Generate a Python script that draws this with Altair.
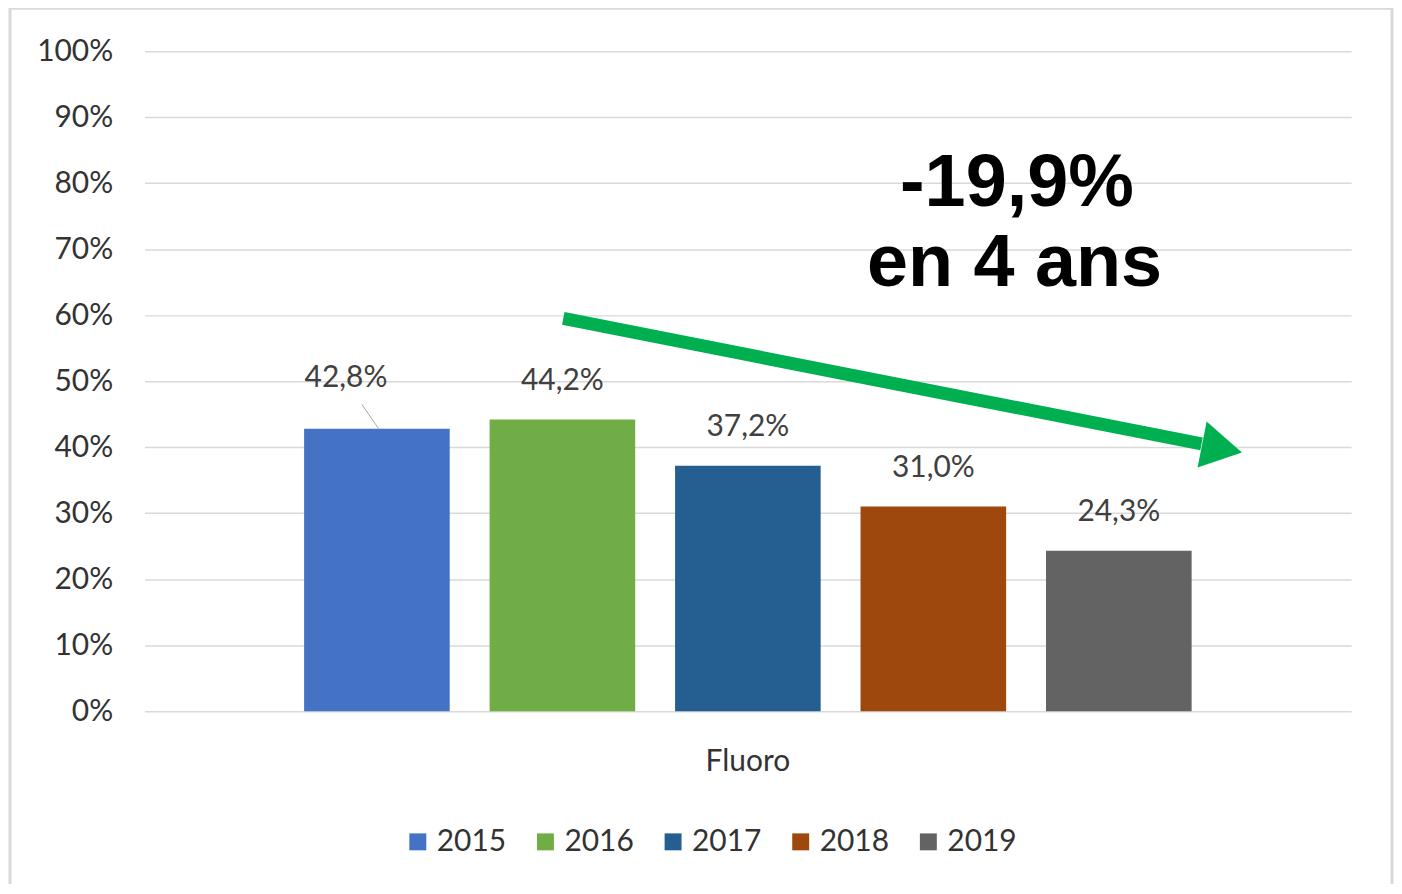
import altair as alt
import pandas as pd

# ---- data ----
categories = ["Fluoro", "Fluoro", "Fluoro", "Fluoro", "Fluoro"]
years = ["2015", "2016", "2017", "2018", "2019"]
values = [42.8, 44.2, 37.2, 31.0, 24.3]
colors = ["#4472C4", "#70AD47", "#255E91", "#9E480E", "#636363"]
y_ticks = [0, 10, 20, 30, 40, 50, 60, 70, 80, 90, 100]
headline = ["-19,9%", "en 4 ans"]

labels = [f"{v:.1f}".replace(".", ",") + "%" for v in values]
df = pd.DataFrame({"cat": categories, "year": years, "value": values, "label": labels})

# annotation positions (fraction of plot width, % on y axis)
head_df = pd.DataFrame({"text": headline, "fx": [0.723, 0.721], "fy": [76.6, 64.4]})
arrow_df = pd.DataFrame({"fx": [0.347], "fy": [59.5], "fx2": [0.876], "fy2": [40.5]})
arrowhead_df = pd.DataFrame({"fx": [0.893], "fy": [39.8]})
leader_df = pd.DataFrame({"fx": [0.180], "fy": [46.5], "fx2": [0.194], "fy2": [42.8]})

W, H = 1210, 662
FONT = "Lato"
TXT = "#333333"

x_scale = alt.Scale(paddingInner=0, paddingOuter=0)
x_enc = alt.X(
    "cat:N", scale=x_scale,
    axis=alt.Axis(title=None, domain=False, ticks=False, labelAngle=0,
                  labelFontSize=30, labelFont=FONT, labelColor=TXT, labelPadding=35),
)
x_enc_noaxis = alt.X("cat:N", scale=x_scale, axis=None)
xoff_enc = alt.XOffset("year:N", scale=alt.Scale(paddingInner=0.215, paddingOuter=0.86))
y_scale = alt.Scale(domain=[0, 100], nice=False)
y_enc = alt.Y(
    "value:Q", scale=y_scale,
    axis=alt.Axis(values=y_ticks, labelExpr="datum.value + '%'", title=None, domain=False,
                  ticks=False, grid=True, gridColor="#d9d9d9", gridWidth=1.5,
                  labelPadding=32, labelFontSize=30, labelFont=FONT, labelColor=TXT),
)
y_enc_noaxis = alt.Y("value:Q", scale=y_scale, axis=None)

base = alt.Chart(df)

bars = base.mark_bar().encode(
    x=x_enc, xOffset=xoff_enc, y=y_enc,
    color=alt.Color("year:N", scale=alt.Scale(domain=years, range=colors),
                    legend=alt.Legend(title=None, orient="none", direction="horizontal",
                                      legendX=259, legendY=778, symbolType="square",
                                      symbolSize=289, symbolStrokeWidth=0,
                                      labelFontSize=30, labelFont=FONT, labelColor=TXT,
                                      labelOffset=4, columnPadding=24)),
)

text_other = base.transform_filter("datum.year != '2015'").mark_text(
    dy=-39, baseline="middle", fontSize=30, font=FONT, color="#404040"
).encode(x=x_enc_noaxis, xOffset=xoff_enc, y=y_enc_noaxis, text="label:N")

text_first = base.transform_filter("datum.year == '2015'").mark_text(
    dy=-51, dx=-31, baseline="middle", fontSize=30, font=FONT, color="#404040"
).encode(x=x_enc_noaxis, xOffset=xoff_enc, y=y_enc_noaxis, text="label:N")

fx_scale = alt.Scale(domain=[0, 1], nice=False, zero=False)
fy_scale = alt.Scale(domain=[0, 100], nice=False)

border = alt.Chart(arrowhead_df).mark_rect(fillOpacity=0, stroke="#d9d9d9", strokeWidth=3).encode(
    x=alt.value(-135), x2=alt.value(1251), y=alt.value(-43), y2=alt.value(860)
)

leader = alt.Chart(leader_df).mark_rule(color="#a6a6a6", strokeWidth=1).encode(
    x=alt.X("fx:Q", scale=fx_scale, axis=None), x2="fx2:Q",
    y=alt.Y("fy:Q", scale=fy_scale, axis=None), y2="fy2:Q",
)

arrow = alt.Chart(arrow_df).mark_rule(color="#00B050", strokeWidth=13).encode(
    x=alt.X("fx:Q", scale=fx_scale, axis=None), x2="fx2:Q",
    y=alt.Y("fy:Q", scale=fy_scale, axis=None), y2="fy2:Q",
)

arrowhead = alt.Chart(arrowhead_df).mark_point(
    shape="triangle-right", size=2209, filled=True, opacity=1, color="#00B050", angle=11.1
).encode(
    x=alt.X("fx:Q", scale=fx_scale, axis=None),
    y=alt.Y("fy:Q", scale=fy_scale, axis=None),
)

headline_txt = alt.Chart(head_df).mark_text(
    fontSize=74, fontWeight="bold", font="Liberation Sans", color="#000000",
    align="center", baseline="alphabetic"
).encode(
    x=alt.X("fx:Q", scale=fx_scale, axis=None),
    y=alt.Y("fy:Q", scale=fy_scale, axis=None),
    text="text:N",
)

chart = alt.layer(
    border, bars, text_other, text_first, leader, arrow, arrowhead, headline_txt
).resolve_scale(x="independent", y="independent").properties(
    width=W, height=H,
    autosize=alt.AutoSizeParams(type="none"),
    padding={"left": 137, "top": 42, "right": 43, "bottom": 172},
    background="white",
).configure_view(stroke=None)

chart.save("out.html", embed_options={"renderer": "svg", "actions": False})
